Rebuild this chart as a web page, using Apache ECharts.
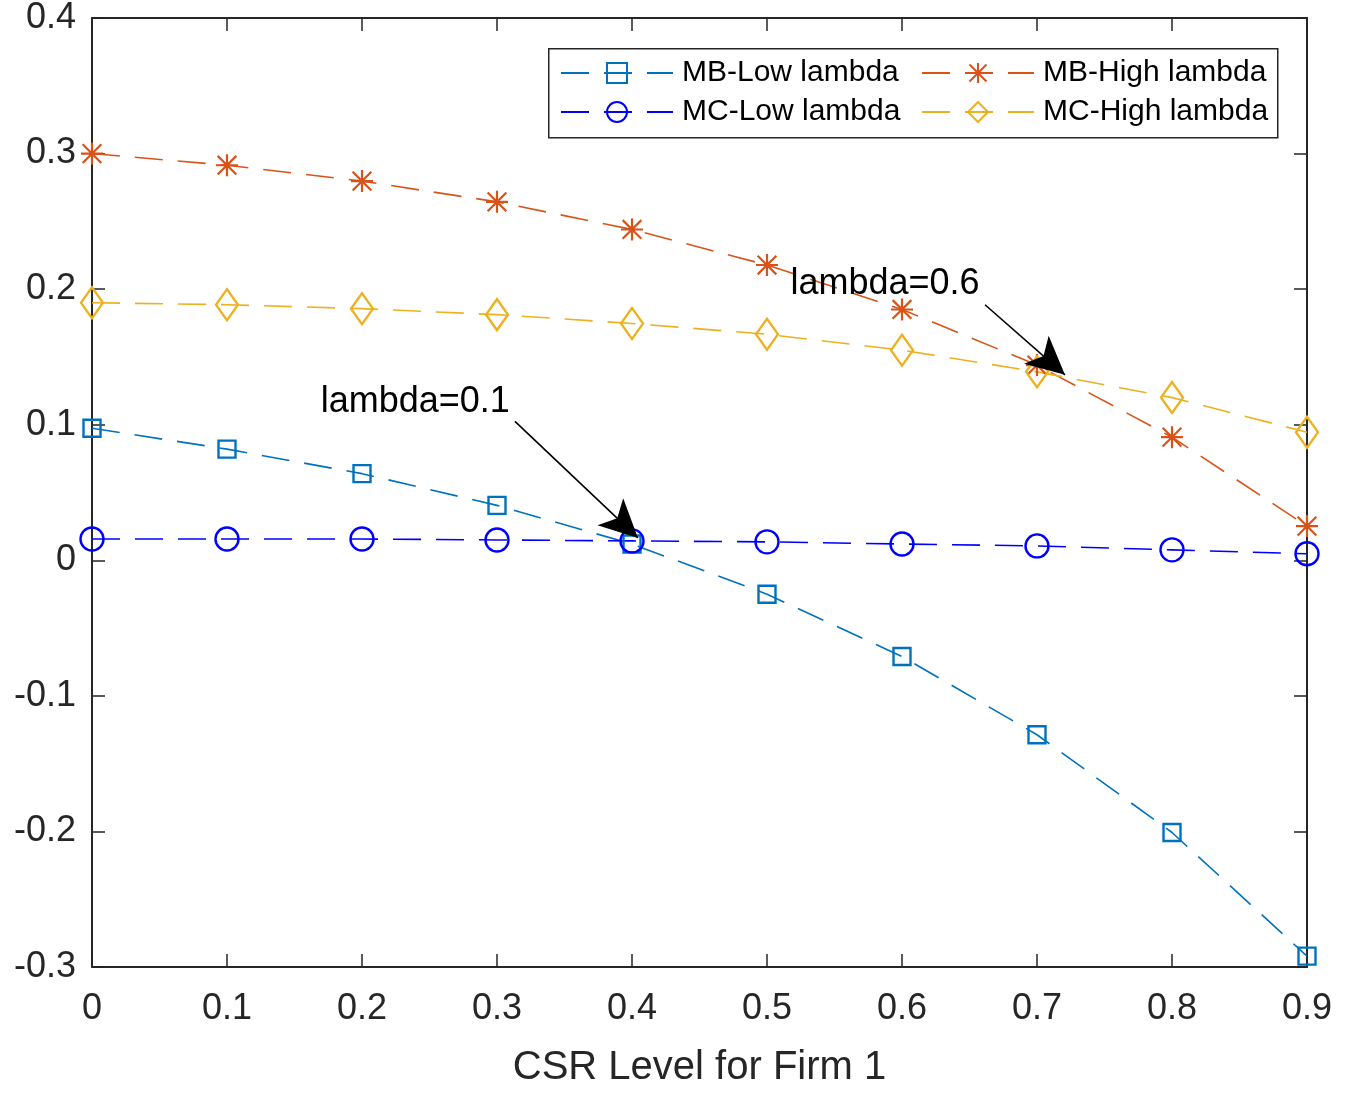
<!DOCTYPE html>
<html>
<head>
<meta charset="utf-8">
<script src="https://cdn.jsdelivr.net/npm/echarts@6/dist/echarts.min.js"></script>
<style>
html,body{margin:0;padding:0;background:#fff;}
#chart{width:1353px;height:1093px;}
</style>
</head>
<body>
<div id="chart"></div>
<script>
// ---- data ----
const csrLevels = [0, 0.1, 0.2, 0.3, 0.4, 0.5, 0.6, 0.7, 0.8, 0.9];
const mbLow  = [0.0974, 0.0820, 0.0639, 0.0405, 0.0120, -0.0250, -0.0710, -0.1287, -0.2008, -0.2920];
const mcLow  = [0.0157, 0.0157, 0.0157, 0.0150, 0.0143, 0.0136, 0.0120, 0.0106, 0.0077, 0.0048];
const mbHigh = [0.3000, 0.2914, 0.2797, 0.2644, 0.2440, 0.2178, 0.1850, 0.1440, 0.0908, 0.0252];
const mcHigh = [0.1900, 0.1885, 0.1856, 0.1812, 0.1747, 0.1667, 0.1550, 0.1390, 0.1200, 0.0945];
const seriesNames = ['MB-Low lambda', 'MC-Low lambda', 'MB-High lambda', 'MC-High lambda'];
const xTitle = 'CSR Level for Firm 1';
// annotations: [text, textX, textY, arrowStartX, arrowStartY, arrowTipX, arrowTipY]
const annoLow  = ['lambda=0.1', 0.169, 0.117, 0.3133, 0.1025, 0.4044, 0.0165];
const annoHigh = ['lambda=0.6', 0.517, 0.2035, 0.6615, 0.1885, 0.7207, 0.1368];

const pair = (xs, ys) => xs.map((x, i) => [x, ys[i]]);
const AX = '#262626';
const FONT = '"Liberation Sans", Arial, Helvetica, sans-serif';
const dash = [28, 15];
const asterisk = 'path://M9,0L11,0L11,20L9,20Z M0,9L20,9L20,11L0,11Z M2.2,0.8L19.2,17.8L17.8,19.2L0.8,2.2Z M17.8,0.8L19.2,2.2L2.2,19.2L0.8,17.8Z';

function hollow(name, data, color, symbol, size) {
  return {
    name, type: 'line', data, clip: false,
    symbol, symbolSize: size,
    lineStyle: { color, width: 1.6, type: dash },
    itemStyle: { color: 'rgba(255,255,255,0)', borderColor: color, borderWidth: 2.4 },
    emphasis: { disabled: true }, z: 3
  };
}

const sMBLow = hollow(seriesNames[0], pair(csrLevels, mbLow), '#0072BD', 'rect', 17);
const sMCLow = hollow(seriesNames[1], pair(csrLevels, mcLow), '#0000FF', 'circle', 23);
const sMCHigh = hollow(seriesNames[3], pair(csrLevels, mcHigh), '#EDB120', 'diamond', [22, 31]);
const sMBHigh = {
  name: seriesNames[2], type: 'line', data: pair(csrLevels, mbHigh), clip: false,
  symbol: asterisk, symbolSize: 22,
  lineStyle: { color: '#D95319', width: 1.6, type: dash },
  itemStyle: { color: '#D95319', borderWidth: 0 },
  emphasis: { disabled: true }, z: 3
};

function arrowLine(a) {
  return [
    { coord: [a[3], a[4]], symbol: 'none' },
    { coord: [a[5], a[6]], symbol: 'arrow', symbolSize: [28, 38] }
  ];
}
function textPoint(a) {
  return {
    coord: [a[1], a[2]], symbol: 'rect', symbolSize: 1,
    itemStyle: { color: 'rgba(0,0,0,0)' },
    label: { show: true, position: 'right', distance: 0, formatter: a[0],
             fontFamily: FONT, fontSize: 36, color: '#000' }
  };
}
sMBLow.markLine = {
  silent: true, animation: false,
  lineStyle: { color: '#000', width: 1.6, type: 'solid' },
  label: { show: false },
  data: [arrowLine(annoLow), arrowLine(annoHigh)]
};
sMBLow.markPoint = {
  silent: true, animation: false,
  data: [textPoint(annoLow), textPoint(annoHigh)]
};

const chart = echarts.init(document.getElementById('chart'), null, { renderer: 'canvas' });
const axisCommon = {
  type: 'value',
  axisLine: { show: true, onZero: false, lineStyle: { color: AX, width: 2 } },
  axisTick: { show: true, inside: true, length: 13, lineStyle: { color: AX, width: 1.5 } },
  splitLine: { show: false }
};
const legendText = { fontFamily: FONT, fontSize: 30, color: '#000', lineHeight: 30, padding: [0, 0, 0, 4] };
const option = {
  animation: false,
  backgroundColor: '#fff',
  textStyle: { fontFamily: FONT },
  grid: { left: 92, right: 46, top: 17, bottom: 116, containLabel: false },
  xAxis: [
    Object.assign({}, axisCommon, {
      min: 0, max: 0.9, interval: 0.1, position: 'bottom',
      axisLabel: { fontSize: 36, color: AX, margin: 24, fontFamily: FONT },
      name: xTitle, nameLocation: 'middle', nameGap: 81,
      nameTextStyle: { fontSize: 40, color: AX, fontFamily: FONT }
    }),
    Object.assign({}, axisCommon, {
      min: 0, max: 0.9, interval: 0.1, position: 'top',
      axisLabel: { show: false }
    })
  ],
  yAxis: [
    Object.assign({}, axisCommon, {
      min: -0.3, max: 0.4, interval: 0.1, position: 'left',
      axisLabel: { fontSize: 36, color: AX, margin: 16, fontFamily: FONT, padding: [6, 0, 0, 0] }
    }),
    Object.assign({}, axisCommon, {
      min: -0.3, max: 0.4, interval: 0.1, position: 'right',
      axisLabel: { show: false }
    })
  ],
  legend: [
    { data: [seriesNames[0], seriesNames[1]], orient: 'vertical', left: 560, top: 58, padding: 0,
      itemWidth: 112, itemHeight: 25, itemGap: 9, textStyle: legendText, selectedMode: false },
    { data: [seriesNames[2], seriesNames[3]], orient: 'vertical', left: 921, top: 58, padding: 0,
      itemWidth: 112, itemHeight: 25, itemGap: 9, textStyle: legendText, selectedMode: false }
  ],
  graphic: [
    { type: 'rect', left: 548, top: 48, z: 0, silent: true,
      shape: { width: 729, height: 89 },
      style: { fill: '#fff', stroke: '#262626', lineWidth: 1.5 } }
  ],
  series: [sMBLow, sMCLow, sMBHigh, sMCHigh]
};
chart.setOption(option);
</script>
</body>
</html>
